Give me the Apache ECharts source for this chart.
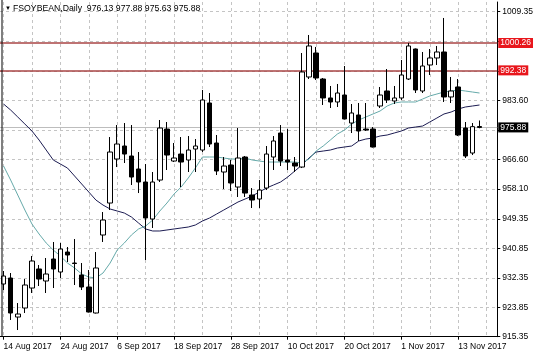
<!DOCTYPE html>
<html>
<head>
<meta charset="utf-8">
<script src="https://cdn.jsdelivr.net/npm/echarts@6/dist/echarts.min.js"></script>
<style>
html,body{margin:0;padding:0;background:#fff;}
#c{width:536px;height:357px;}
</style>
</head>
<body>
<div id="c"></div>
<script>
var symbolName = 'FSOYBEAN,Daily';
var dates = [
 '14 Aug 2017','15 Aug 2017','16 Aug 2017','17 Aug 2017','18 Aug 2017','21 Aug 2017','22 Aug 2017','23 Aug 2017',
 '24 Aug 2017','25 Aug 2017','28 Aug 2017','29 Aug 2017','30 Aug 2017','31 Aug 2017','1 Sep 2017','5 Sep 2017',
 '6 Sep 2017','7 Sep 2017','8 Sep 2017','11 Sep 2017','12 Sep 2017','13 Sep 2017','14 Sep 2017','15 Sep 2017',
 '18 Sep 2017','19 Sep 2017','20 Sep 2017','21 Sep 2017','22 Sep 2017','25 Sep 2017','26 Sep 2017','27 Sep 2017',
 '28 Sep 2017','29 Sep 2017','2 Oct 2017','3 Oct 2017','4 Oct 2017','5 Oct 2017','6 Oct 2017','9 Oct 2017',
 '10 Oct 2017','11 Oct 2017','12 Oct 2017','13 Oct 2017','16 Oct 2017','17 Oct 2017','18 Oct 2017','19 Oct 2017',
 '20 Oct 2017','23 Oct 2017','24 Oct 2017','25 Oct 2017','26 Oct 2017','27 Oct 2017','30 Oct 2017','31 Oct 2017',
 '1 Nov 2017','2 Nov 2017','3 Nov 2017','6 Nov 2017','7 Nov 2017','8 Nov 2017','9 Nov 2017','10 Nov 2017',
 '13 Nov 2017','14 Nov 2017','15 Nov 2017','16 Nov 2017','17 Nov 2017','20 Nov 2017'
];
var opens = [930.59,932.32,921.04,923.65,929.43,934.93,931.46,937.82,934.06,939.84,936.66,933.19,929.72,922.20,
 944.76,954.01,966.74,970.50,967.61,963.85,960.09,949.39,960.66,975.41,966.16,968.18,966.45,969.63,969.34,982.94,
 971.37,962.98,965.00,958.64,967.32,956.33,955.17,958.35,967.32,974.26,966.45,965.58,964.42,990.46,997.40,989.88,
 984.39,983.23,985.25,977.15,979.47,975.41,975.41,982.07,986.41,983.52,984.39,989.88,998.56,986.41,993.93,995.96,
 997.69,984.68,987.57,975.70,968.47,976.13];
var closes = [932.90,922.20,921.91,930.30,937.24,932.03,933.48,934.93,940.71,938.98,936.52,929.72,922.49,935.22,
 949.10,968.76,971.08,968.18,961.53,960.09,949.68,960.09,975.70,967.89,967.03,965.87,969.34,970.50,983.81,971.08,
 963.27,964.71,959.80,967.03,956.90,954.88,957.77,968.18,971.95,966.16,965.87,964.71,991.91,999.43,990.17,984.39,
 983.23,985.83,978.31,980.05,974.84,975.13,970.21,985.25,983.81,984.39,991.04,999.43,986.70,993.64,995.96,997.69,
 984.68,986.41,973.68,967.61,976.10,975.88];
var lows = [928.85,920.18,917.28,922.20,927.99,930.01,927.99,929.43,932.32,936.95,930.30,928.85,922.35,922.06,
 942.74,951.99,964.42,965.58,959.22,956.90,937.53,946.79,960.09,963.56,965.87,958.64,962.98,962.98,968.76,970.21,
 962.11,958.06,957.48,955.75,955.75,952.57,952.57,957.77,963.56,964.71,963.56,962.98,964.13,989.88,989.59,982.36,
 981.49,981.78,978.17,974.26,971.95,974.84,970.07,981.49,982.94,982.65,983.81,989.59,985.83,985.83,991.04,993.93,
 983.23,982.94,973.39,967.03,967.89,975.63];
var highs = [934.35,933.77,925.09,932.03,938.69,936.08,938.11,942.74,942.45,941.29,943.60,936.66,934.64,939.84,
 951.41,973.10,976.57,977.15,976.57,968.76,965.29,962.98,978.02,977.44,971.37,973.10,973.39,972.52,986.70,985.83,
 973.68,967.32,966.45,975.70,967.61,958.35,960.66,970.50,973.39,976.57,975.41,967.32,997.40,1002.61,999.14,990.17,
 987.86,988.44,993.64,982.65,982.94,982.94,975.99,987.57,992.77,987.86,995.38,1000.30,998.70,997.69,998.56,999.43,
 1007.53,990.46,989.88,977.44,977.15,977.88];
var maFast = [964.72,960.66,956.33,951.99,947.94,945.05,942.45,940.42,938.69,936.66,935.22,933.48,932.61,932.32,
 933.77,936.66,940.42,942.45,944.76,946.50,947.36,949.10,951.70,954.01,956.61,958.64,961.24,964.13,967.32,967.32,
 967.32,967.03,966.74,966.74,967.03,966.45,966.16,965.87,965.87,965.87,965.87,965.87,965.58,966.74,969.05,970.50,
 972.23,973.97,975.13,976.86,978.02,978.89,979.76,980.62,982.07,982.94,983.23,983.23,983.23,984.10,984.97,985.54,
 986.12,986.41,986.70,986.41,986.12,985.83];
var maSlow = [982.65,980.91,978.89,976.86,974.84,972.23,969.34,966.45,965.29,964.13,961.82,959.51,957.19,954.88,
 953.43,952.28,951.70,951.12,949.97,948.23,946.50,945.92,945.92,946.21,946.50,946.79,947.07,947.65,948.81,949.68,
 950.84,951.99,953.15,954.30,955.17,956.04,957.19,958.35,959.22,960.09,961.53,963.27,965.00,967.03,968.76,969.05,
 969.34,969.92,970.21,970.50,971.95,972.52,972.81,973.39,973.68,974.26,974.84,975.70,975.99,976.28,977.44,978.60,
 979.76,980.33,981.20,981.78,982.07,982.36];
var levelLines = [1000.26, 992.38];
var lastPrice = 975.88;
var yGridValues = [915.35,923.85,932.35,940.85,949.35,958.10,966.60,975.10,983.60,992.25,1000.80,1009.35];
var yLabelValues = [915.35,923.85,932.35,940.85,949.35,958.10,966.60,983.60,1009.35];

var ohlc = [];
for (var i = 0; i < opens.length; i++) ohlc.push([opens[i], closes[i], lows[i], highs[i]]);
var n = opens.length - 1;
var header = symbolName + '  ' + [opens[n], highs[n], lows[n], closes[n]].map(function(v){return v.toFixed(2);}).join(' ');

var FONT = 'Liberation Sans, Arial, sans-serif';
var chart = echarts.init(document.getElementById('c'), null, {renderer: 'canvas'});
var mlData = levelLines.map(function(v){
  return {yAxis: v, lineStyle: {color: '#a84444', width: 1.5, type: 'solid'},
    label: {backgroundColor: '#e8161c', color: '#fff'}};
});
mlData.push({yAxis: lastPrice, lineStyle: {color: '#bdbdbd', width: 1, type: 'solid'},
  label: {backgroundColor: '#000', color: '#fff'}});

chart.setOption({
  animation: false,
  backgroundColor: '#ffffff',
  grid: {left: -0.575, right: 36, top: 2, bottom: 20.3, containLabel: false},
  graphic: [
    {type: 'line', shape: {x1: 2, y1: 0, x2: 2, y2: 337}, style: {stroke: '#000', lineWidth: 1}, z: 50},
    {type: 'text', left: 5, top: 5, style: {text: '\u25BC', font: '6px ' + FONT, fill: '#000'}, z: 50},
    {type: 'text', left: 13, top: 4, style: {text: header, font: '8.7px ' + FONT, fill: '#000'}, z: 50}
  ],
  xAxis: {
    type: 'category', data: dates, boundaryGap: true,
    axisLine: {lineStyle: {color: '#000', width: 1}},
    axisTick: {show: true, alignWithLabel: true, interval: 7, length: 3, lineStyle: {color: '#000'}},
    axisLabel: {interval: 7, align: 'left', margin: 5, color: '#000', fontSize: 8.5, fontFamily: FONT, hideOverlap: false},
    splitLine: {show: true, interval: 3, alignWithLabel: true, lineStyle: {color: '#c4c4c4', type: [3, 3], width: 1}}
  },
  yAxis: {
    type: 'value', position: 'right', min: 915.35, max: 1012.15, scale: true,
    axisLine: {show: true, lineStyle: {color: '#000', width: 1}},
    axisTick: {show: true, customValues: yGridValues, length: 3, lineStyle: {color: '#000'}},
    axisLabel: {customValues: yLabelValues, margin: 5, color: '#000', fontSize: 8.5, fontFamily: FONT,
      formatter: function(v){return v.toFixed(2);}},
    splitLine: {show: true, lineStyle: {color: '#c4c4c4', type: [3, 3], width: 1}}
  },
  series: [
    {type: 'line', data: maSlow, showSymbol: false, smooth: false, z: 3,
      lineStyle: {color: '#1c1c52', width: 1}},
    {type: 'line', data: maFast, showSymbol: false, smooth: false, z: 3,
      lineStyle: {color: '#66aaaa', width: 1}},
    {type: 'candlestick', data: ohlc, barWidth: 5, z: 4,
      itemStyle: {color: '#ffffff', color0: '#000000', borderColor: '#000000', borderColor0: '#000000', borderWidth: 1},
      markLine: {silent: true, symbol: 'none', animation: false, z: 2,
        label: {position: 'end', distance: 1, fontSize: 8.5, fontFamily: FONT, padding: [1, 2, 0, 2],
          formatter: function(p){return p.value.toFixed(2);}},
        data: mlData}
    }
  ]
});
</script>
</body>
</html>
